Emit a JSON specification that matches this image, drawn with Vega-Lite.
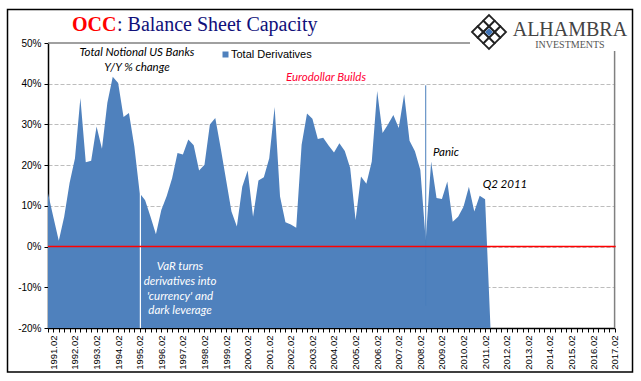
{
"$schema":"https://vega.github.io/schema/vega-lite/v6.json",
"width":566.6,"height":285,
"autosize":{"type":"none"},
"padding":{"left":48,"top":43,"right":26.4,"bottom":53},
"background":"white",
"config":{"view":{"stroke":null}},
"resolve":{"axis":{"x":"independent","y":"independent"}},
"datasets":{
"series":[
{"t":1991.0,"v":13.1},{"t":1991.25,"v":7.2},{"t":1991.5,"v":1.4},{"t":1991.75,"v":7.3},
{"t":1992.0,"v":15.6},{"t":1992.25,"v":21.7},{"t":1992.5,"v":36.5},{"t":1992.75,"v":20.7},
{"t":1993.0,"v":21.1},{"t":1993.25,"v":29.5},{"t":1993.5,"v":24},{"t":1993.75,"v":35.3},
{"t":1994.0,"v":41.7},{"t":1994.25,"v":40.2},{"t":1994.5,"v":31.8},{"t":1994.75,"v":32.8},
{"t":1995.0,"v":24.6},{"t":1995.25,"v":13.1},{"t":1995.5,"v":11.4},{"t":1995.75,"v":7.3},
{"t":1996.0,"v":3},{"t":1996.25,"v":9},{"t":1996.5,"v":12.4},{"t":1996.75,"v":16.8},
{"t":1997.0,"v":23},{"t":1997.25,"v":22.6},{"t":1997.5,"v":26.3},{"t":1997.75,"v":24.9},
{"t":1998.0,"v":18.7},{"t":1998.25,"v":20.1},{"t":1998.5,"v":30},{"t":1998.75,"v":31.6},
{"t":1999.0,"v":24.2},{"t":1999.25,"v":16.4},{"t":1999.5,"v":8.6},{"t":1999.75,"v":4.9},
{"t":2000.0,"v":14.7},{"t":2000.25,"v":18.7},{"t":2000.5,"v":7.3},{"t":2000.75,"v":16.2},
{"t":2001.0,"v":17},{"t":2001.25,"v":21.7},{"t":2001.5,"v":34.3},{"t":2001.75,"v":12.3},
{"t":2002.0,"v":6},{"t":2002.25,"v":5.4},{"t":2002.5,"v":4.6},{"t":2002.75,"v":25},
{"t":2003.0,"v":32.7},{"t":2003.25,"v":31.4},{"t":2003.5,"v":26.4},{"t":2003.75,"v":26.7},
{"t":2004.0,"v":24.8},{"t":2004.25,"v":23.1},{"t":2004.5,"v":25.4},{"t":2004.75,"v":23.5},
{"t":2005.0,"v":19.3},{"t":2005.25,"v":6.5},{"t":2005.5,"v":17.2},{"t":2005.75,"v":15.4},
{"t":2006.0,"v":20.9},{"t":2006.25,"v":38.2},{"t":2006.5,"v":27.9},{"t":2006.75,"v":30},
{"t":2007.0,"v":32.3},{"t":2007.25,"v":29.1},{"t":2007.5,"v":37.4},{"t":2007.75,"v":26},
{"t":2008.0,"v":23.4},{"t":2008.25,"v":18.8},{"t":2008.5,"v":1.5},{"t":2008.75,"v":20.9},
{"t":2009.0,"v":11.9},{"t":2009.25,"v":11.7},{"t":2009.5,"v":16},{"t":2009.75,"v":6.1},
{"t":2010.0,"v":7.3},{"t":2010.25,"v":9.8},{"t":2010.5,"v":14.7},{"t":2010.75,"v":8.6},
{"t":2011.0,"v":12.5},{"t":2011.25,"v":11.6},{"t":2011.5,"v":-20}
],
"one":[{}],
"notes":[
{"t":1995.123,"v":47.54,"s":"Total Notional US Banks"},
{"t":1995.123,"v":43.86,"s":"Y/Y % change"},
{"t":2009.44,"v":22.98,"s":"Panic"},
{"t":2012.17,"v":15.12,"s":"Q2 2011"}
],
"whiteNotes":[
{"t":1997.115,"v":-5.02,"s":"VaR turns"},
{"t":1997.115,"v":-8.71,"s":"derivatives into"},
{"t":1997.115,"v":-12.39,"s":"'currency' and"},
{"t":1997.115,"v":-15.83,"s":"dark leverage"}
],
"logoCells":[
{"t":2011.169,"v":54.09},{"t":2011.694,"v":54.09},{"t":2011.169,"v":51.31},{"t":2011.694,"v":51.31},
{"t":2010.906,"v":52.7},{"t":2011.956,"v":52.7},{"t":2011.431,"v":55.48},{"t":2011.431,"v":49.92},{"t":2011.431,"v":52.7}
]
},
"layer":[
{"data":{"name":"series"},
 "mark":{"type":"area","interpolate":"linear"},
 "encoding":{
  "x":{"field":"t","type":"quantitative","scale":{"domain":[1991,2017.25],"nice":false,"zero":false},
   "axis":{"title":null,"grid":false,"values":[1991,1991.25,1991.5,1991.75,1992,1992.25,1992.5,1992.75,1993,1993.25,1993.5,1993.75,1994,1994.25,1994.5,1994.75,1995,1995.25,1995.5,1995.75,1996,1996.25,1996.5,1996.75,1997,1997.25,1997.5,1997.75,1998,1998.25,1998.5,1998.75,1999,1999.25,1999.5,1999.75,2000,2000.25,2000.5,2000.75,2001,2001.25,2001.5,2001.75,2002,2002.25,2002.5,2002.75,2003,2003.25,2003.5,2003.75,2004,2004.25,2004.5,2004.75,2005,2005.25,2005.5,2005.75,2006,2006.25,2006.5,2006.75,2007,2007.25,2007.5,2007.75,2008,2008.25,2008.5,2008.75,2009,2009.25,2009.5,2009.75,2010,2010.25,2010.5,2010.75,2011,2011.25,2011.5,2011.75,2012,2012.25,2012.5,2012.75,2013,2013.25,2013.5,2013.75,2014,2014.25,2014.5,2014.75,2015,2015.25,2015.5,2015.75,2016,2016.25,2016.5,2016.75,2017,2017.25],
    "labelExpr":"(datum.value % 1 == 0.25) ? floor(datum.value) + '.02' : ''",
    "labelAngle":270,"labelOverlap":false,"labelBound":false,"labelFlush":false,"labelFont":"Liberation Sans","labelFontSize":9.5,"labelColor":"black","labelPadding":3,
    "tickSize":4,"tickColor":"black","tickWidth":1,"domainColor":"black","domainWidth":1.5}},
  "y":{"field":"v","type":"quantitative","scale":{"domain":[-20,50],"nice":false,"zero":false},
   "axis":{"title":null,"values":[-20,-10,0,10,20,30,40,50],"labelExpr":"datum.value + '%'","labelFont":"Liberation Sans","labelFontSize":10,"labelColor":"black","labelPadding":3,
    "tickSize":4,"tickColor":"black","tickWidth":1,"domainColor":"black","domainWidth":1.5,
    "grid":true,"gridColor":"#bdbdbd","gridDash":[4,2],"gridWidth":1,"gridOpacity":{"condition":{"test":"datum.value == 50 || datum.value == -20","value":0},"value":1}}},
  "y2":{"datum":-20},
  "color":{"datum":"Total Derivatives","type":"nominal","scale":{"range":["#4f81bd"]},
   "legend":{"title":null,"orient":"none","legendX":172,"legendY":6,"symbolType":"square","symbolSize":36,"labelFont":"Liberation Sans","labelFontSize":11,"labelColor":"black","labelOffset":0}}
 }},
{"data":{"name":"one"},"mark":{"type":"rule","color":"#808080","strokeWidth":1.5},
 "encoding":{"x":{"datum":1991,"axis":null},"x2":{"datum":2010.55},"y":{"datum":50,"axis":null}}},
{"data":{"name":"one"},"mark":{"type":"rule","color":"#808080","strokeWidth":1.5},
 "encoding":{"x":{"datum":2017.25,"axis":null},"y":{"datum":48.03,"axis":null},"y2":{"datum":-20}}},
{"data":{"name":"one"},"mark":{"type":"rule","color":"white","strokeWidth":1.2},
 "encoding":{"x":{"datum":1995.28,"axis":null},"y":{"datum":13.1,"axis":null},"y2":{"datum":-20}}},
{"data":{"name":"one"},"mark":{"type":"rule","color":"#4a7ebb","strokeWidth":1},
 "encoding":{"x":{"datum":2008.5,"axis":null},"y":{"datum":39.6,"axis":null},"y2":{"datum":-14.5}}},
{"data":{"name":"one"},"mark":{"type":"rule","color":"#ff0000","strokeWidth":1.5},
 "encoding":{"x":{"datum":1991,"axis":null},"x2":{"datum":2017.3},"y":{"datum":0,"axis":null}}},
{"data":{"name":"notes"},"mark":{"type":"text","font":"Lato","fontStyle":"italic","fontSize":11.5,"color":"black","align":"center","baseline":"middle"},
 "encoding":{"x":{"field":"t","type":"quantitative","axis":null},"y":{"field":"v","type":"quantitative","axis":null},"text":{"field":"s"}}},
{"data":{"name":"whiteNotes"},"mark":{"type":"text","font":"Lato","fontStyle":"italic","fontSize":11.5,"color":"white","align":"center","baseline":"middle"},
 "encoding":{"x":{"field":"t","type":"quantitative","axis":null},"y":{"field":"v","type":"quantitative","axis":null},"text":{"field":"s"}}},
{"data":{"name":"one"},"mark":{"type":"text","font":"Lato","fontStyle":"italic","fontSize":11.5,"color":"#ff0033","align":"center","baseline":"middle"},
 "encoding":{"x":{"datum":2003.879,"axis":null},"y":{"datum":41.4,"axis":null},"text":{"value":"Eurodollar Builds"}}},
{"data":{"name":"one"},"mark":{"type":"text","font":"Liberation Serif","fontWeight":"bold","fontSize":20,"color":"#ff0000","align":"left","baseline":"middle"},
 "encoding":{"x":{"datum":1992.11,"axis":null},"y":{"datum":54.42,"axis":null},"text":{"value":"OCC"}}},
{"data":{"name":"one"},"mark":{"type":"text","font":"Liberation Serif","fontSize":20,"color":"#10107a","align":"left","baseline":"middle"},
 "encoding":{"x":{"datum":1994.197,"axis":null},"y":{"datum":54.42,"axis":null},"text":{"value":": Balance Sheet Capacity"}}},
{"data":{"name":"one"},"mark":{"type":"text","font":"Liberation Serif","fontSize":20,"color":"#444444","align":"center","baseline":"middle"},
 "encoding":{"x":{"datum":2015.18,"axis":null},"y":{"datum":53.19,"axis":null},"text":{"value":"ALHAMBRA"}}},
{"data":{"name":"one"},"mark":{"type":"text","font":"Liberation Serif","fontSize":10,"color":"#555555","align":"center","baseline":"middle"},
 "encoding":{"x":{"datum":2015.18,"axis":null},"y":{"datum":49.5,"axis":null},"text":{"value":"INVESTMENTS"}}},
{"data":{"name":"logoCells"},"mark":{"type":"point","shape":"diamond","filled":false,"size":128,"stroke":"#222222","strokeWidth":1.8,"opacity":1},
 "encoding":{"x":{"field":"t","type":"quantitative","axis":null},"y":{"field":"v","type":"quantitative","axis":null}}},
{"data":{"name":"one"},"mark":{"type":"point","shape":"diamond","filled":true,"size":60,"color":"#3f74b8","opacity":1},
 "encoding":{"x":{"datum":2011.431,"axis":null},"y":{"datum":52.7,"axis":null}}},
{"data":{"name":"one"},"mark":{"type":"rect","fill":null,"stroke":"black","strokeWidth":1.5},
 "encoding":{"x":{"datum":1989.124,"axis":null},"x2":{"datum":2018.08},"y":{"datum":58.23,"axis":null},"y2":{"datum":-30.8}}}
]
}
